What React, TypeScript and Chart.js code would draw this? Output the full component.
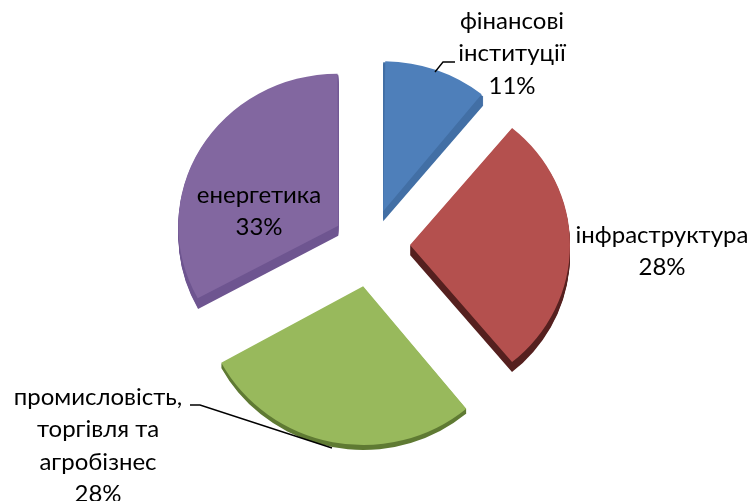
import React, { useEffect, useRef } from "react";
import { Chart, registerables } from "chart.js";

Chart.register(...registerables);

const categories = ["фінансові інституції", "інфраструктура", "промисловість, торгівля та агробізнес", "енергетика"];
const shares = [11, 28, 28, 33];
const percentLabels = ["11%", "28%", "28%", "33%"];

const topColors = ["#4e7fba", "#b4504e", "#98b95c", "#8267a0"];
const sideColors = ["#426fa5", "#55201f", "#5f7a33", "#6e5590"];
const sliceOffsets = [144, 156, 168, 152];
const sliceRadii = [157, 160, 162, 160];
const sliceTilt = [0.955, 0.95, 0.98, 0.95];
const sliceDepths = [10, 10, 5, 10];

const labelLines = [
  { lines: ["фінансові", "інституції", percentLabels[0]], x: 512, y: 21 },
  { lines: ["інфраструктура", percentLabels[1]], x: 662, y: 235 },
  { lines: ["промисловість,", "торгівля та", "агробізнес", percentLabels[2]], x: 98, y: 397 },
  { lines: ["енергетика", percentLabels[3]], x: 259, y: 195 },
];
const LINE_PITCH = 32.5;
const FONT = "24px Lato, Carlito, 'Open Sans', sans-serif";

const leaders = [
  [[435, 72], [443, 62], [455, 62]],
  [[190, 405], [200, 405], [332, 448]],
];

function apexOf(arc: any, i: number) {
  const mid = (arc.startAngle + arc.endAngle) / 2;
  const d = sliceOffsets[i] / 4;
  return { x: arc.x + Math.cos(mid) * d, y: arc.y + Math.sin(mid) * d };
}

const piePlugin = {
  id: "pie3d",
  afterDatasetsUpdate(chart: any) {
    chart.getDatasetMeta(0).data.forEach((arc: any, i: number) => {
      const d = sliceOffsets[i] / 4;
      const circ = arc.circumference;
      const fix = 1 - Math.sin(Math.min(Math.PI, circ));
      arc.outerRadius = sliceRadii[i] - d * fix;
      const proto = Object.getPrototypeOf(arc);
      arc.draw = function (ctx: CanvasRenderingContext2D) {
        const a = apexOf(this, i);
        ctx.save();
        ctx.translate(a.x, a.y);
        ctx.scale(1, sliceTilt[i]);
        ctx.translate(-a.x, -a.y);
        proto.draw.call(this, ctx);
        ctx.restore();
      };
    });
  },
  beforeDatasetsDraw(chart: any) {
    const ctx = chart.ctx;
    chart.getDatasetMeta(0).data.forEach((arc: any, i: number) => {
      const a = apexOf(arc, i);
      const r = sliceRadii[i];
      ctx.save();
      ctx.fillStyle = sideColors[i];
      for (let k = 1; k <= sliceDepths[i]; k++) {
        ctx.beginPath();
        ctx.moveTo(a.x, a.y + k);
        ctx.ellipse(a.x, a.y + k, r, r * sliceTilt[i], 0, arc.startAngle, arc.endAngle);
        ctx.closePath();
        ctx.fill();
      }
      ctx.restore();
    });
  },
  afterDraw(chart: any) {
    const ctx = chart.ctx;
    ctx.save();
    ctx.fillStyle = "#000";
    ctx.font = FONT;
    ctx.textAlign = "center";
    ctx.textBaseline = "middle";
    labelLines.forEach((l) => {
      l.lines.forEach((t, j) => ctx.fillText(t, l.x, l.y + j * LINE_PITCH));
    });
    ctx.strokeStyle = "#000";
    ctx.lineWidth = 1.4;
    leaders.forEach((p) => {
      ctx.beginPath();
      p.forEach(([x, y], i) => (i ? ctx.lineTo(x, y) : ctx.moveTo(x, y)));
      ctx.stroke();
    });
    ctx.restore();
  },
};

export default function App() {
  const ref = useRef<HTMLCanvasElement>(null);
  useEffect(() => {
    const chart = new Chart(ref.current as HTMLCanvasElement, {
      type: "pie",
      data: {
        labels: categories,
        datasets: [
          {
            data: shares,
            backgroundColor: topColors,
            borderWidth: 0,
            offset: sliceOffsets,
            radius: 160,
          } as any,
        ],
      },
      options: {
        animation: false,
        responsive: false,
        layout: { padding: { right: 10, bottom: 11 } },
        plugins: { legend: { display: false }, tooltip: { enabled: false } },
      },
      plugins: [piePlugin],
    });
    return () => chart.destroy();
  }, []);
  return (
    <div style={{ position: "absolute", left: 0, top: 0, width: 752, height: 501, background: "#fff", overflow: "hidden" }}>
      <canvas ref={ref} width={752} height={501} style={{ display: "block" }} />
    </div>
  );
}
